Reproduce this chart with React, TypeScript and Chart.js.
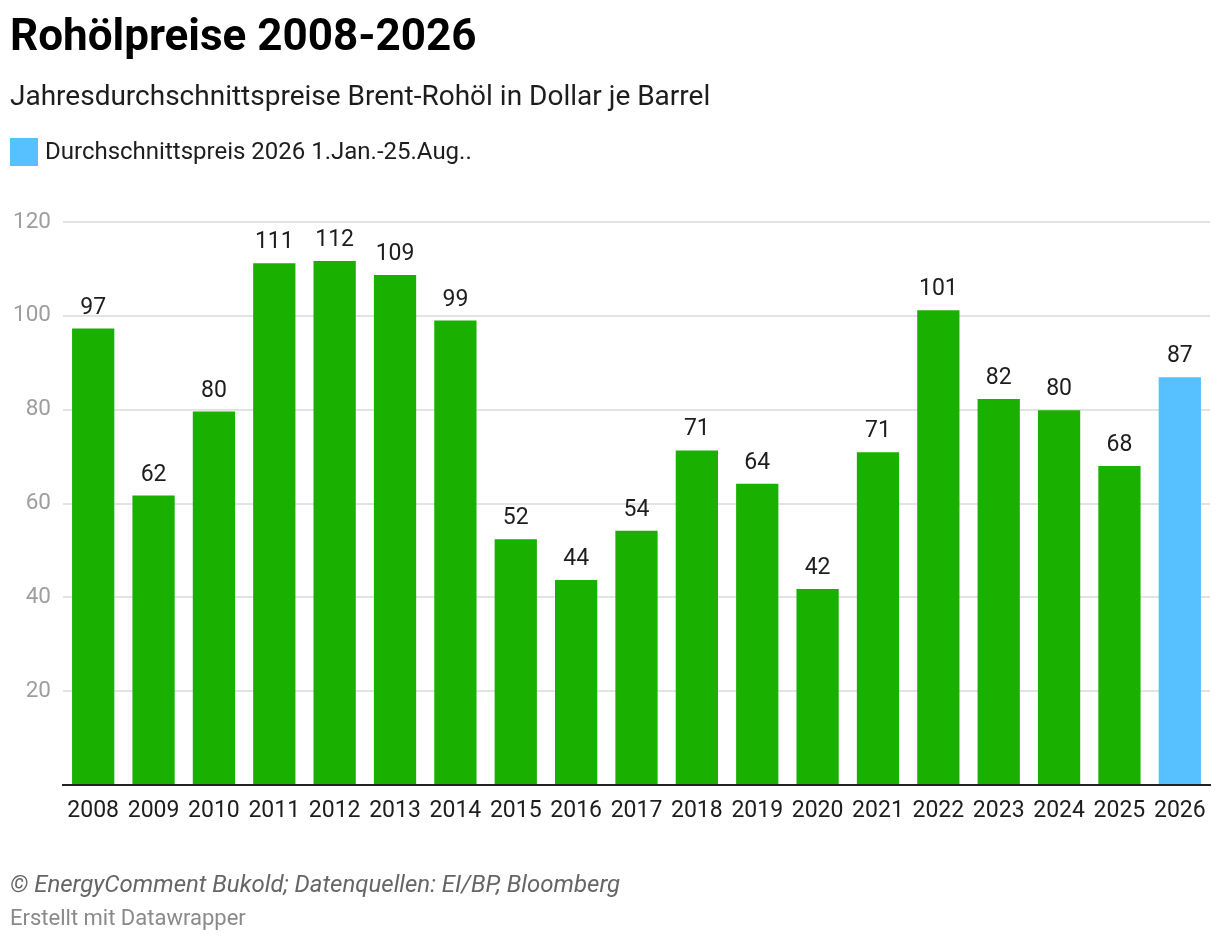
import { useEffect, useRef } from "react";
import Chart from "chart.js/auto";

const years = [
  "2008", "2009", "2010", "2011", "2012", "2013", "2014", "2015", "2016", "2017",
  "2018", "2019", "2020", "2021", "2022", "2023", "2024", "2025", "2026",
];
const prices = [
  97.3, 61.7, 79.6, 111.2, 111.7, 108.7, 99.0, 52.4, 43.7, 54.2,
  71.3, 64.2, 41.8, 70.9, 101.2, 82.3, 79.9, 68.0, 86.9,
];
const yTicks = [0, 20, 40, 60, 80, 100, 120];

const GREEN = "#19b000";
const BLUE = "#57c1ff";
const FONT = "Roboto, 'Noto Sans', sans-serif";

const valueLabels = {
  id: "valueLabels",
  afterDatasetsDraw: (chart: any) => {
    const { ctx } = chart;
    const meta = chart.getDatasetMeta(0);
    ctx.save();
    ctx.font = `23px ${FONT}`;
    ctx.fillStyle = "#1d1d1d";
    ctx.textAlign = "center";
    ctx.textBaseline = "alphabetic";
    meta.data.forEach((bar: any, i: number) => {
      ctx.fillText(String(Math.round(prices[i])), bar.x, bar.y - 15);
    });
    ctx.restore();
  },
};

const BarChart = () => {
  const chartRef = useRef<HTMLCanvasElement | null>(null);

  useEffect(() => {
    document.body.style.margin = "0";
    const ctx = chartRef.current?.getContext("2d");
    if (!ctx) return;

    const myChart = new Chart(ctx, {
      type: "bar",
      data: {
        labels: years,
        datasets: [
          {
            data: prices,
            backgroundColor: years.map((_, i) => (i === years.length - 1 ? BLUE : GREEN)),
            barPercentage: 0.7,
            categoryPercentage: 1,
          },
        ],
      },
      options: {
        animation: false,
        responsive: false,
        layout: { padding: { top: 222, right: 10, bottom: 119, left: 0 } },
        plugins: {
          legend: { display: false },
          tooltip: { enabled: false },
        },
        scales: {
          x: {
            grid: { display: false, drawTicks: false },
            border: { display: true, color: "#222", width: 2 },
            ticks: {
              color: "#1d1d1d",
              font: { family: FONT, size: 23 },
              padding: 12,
              maxRotation: 0,
              autoSkip: false,
            },
            afterFit: (scale: any) => {
              scale.height = 40;
            },
          },
          y: {
            min: yTicks[0],
            max: yTicks[yTicks.length - 1],
            grid: { color: "#e3e3e3", lineWidth: 2, drawTicks: false },
            border: { display: false },
            afterBuildTicks: (scale: any) => {
              scale.ticks = yTicks.map((v) => ({ value: v }));
            },
            ticks: {
              color: "#9e9e9e",
              font: { family: FONT, size: 22.5 },
              padding: 12,
              callback: (v: any) => (v === 0 ? "" : String(v)),
            },
            afterFit: (scale: any) => {
              scale.width = 63;
            },
          },
        },
      },
      plugins: [valueLabels],
    });

    return () => {
      myChart.destroy();
    };
  }, []);

  return (
    <canvas
      ref={chartRef}
      width={1220}
      height={944}
      style={{ position: "absolute", left: 0, top: 0, width: 1220, height: 944 }}
    />
  );
};

const App = () => {
  const text = { position: "absolute" as const, left: 10, margin: 0, whiteSpace: "nowrap" as const, fontFamily: FONT };
  return (
    <div style={{ position: "absolute", left: 0, top: 0, width: 1220, height: 944, background: "#fff", overflow: "hidden" }}>
      <BarChart />
      <div style={{ ...text, top: 13, fontSize: 44, lineHeight: "44px", fontWeight: 700, color: "#000" }}>
        Rohölpreise 2008-2026
      </div>
      <div style={{ ...text, top: 82, fontSize: 28, lineHeight: "28px", color: "#1d1d1d" }}>
        Jahresdurchschnittspreise Brent-Rohöl in Dollar je Barrel
      </div>
      <div style={{ position: "absolute", left: 10, top: 138, width: 28, height: 28, background: BLUE }} />
      <div style={{ ...text, left: 45, top: 139, fontSize: 24, lineHeight: "24px", color: "#1d1d1d" }}>
        Durchschnittspreis 2026 1.Jan.-25.Aug..
      </div>
      <div style={{ ...text, top: 872, fontSize: 24, lineHeight: "24px", fontStyle: "italic", color: "#666" }}>
        © EnergyComment Bukold; Datenquellen: EI/BP, Bloomberg
      </div>
      <div style={{ ...text, top: 907, fontSize: 22, lineHeight: "22px", color: "#8a8a8a" }}>
        Erstellt mit Datawrapper
      </div>
    </div>
  );
};

export default App;
